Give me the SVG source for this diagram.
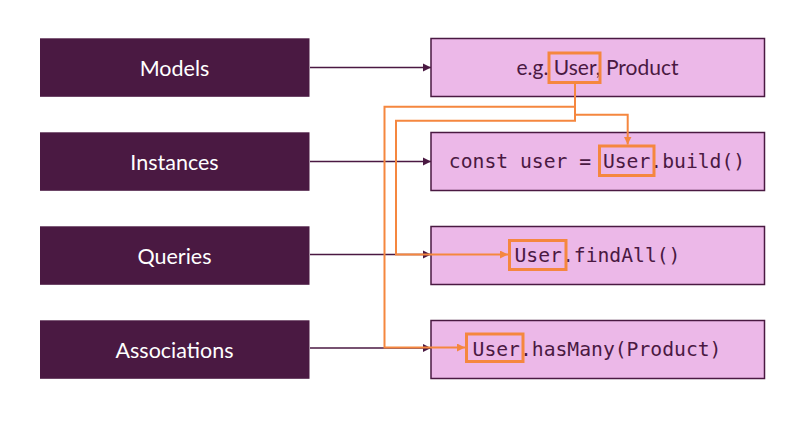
<svg xmlns="http://www.w3.org/2000/svg" width="808" height="421" viewBox="0 0 808 421">
<style>
.lbox{fill:#4a1942;}
.rbox{fill:#ecb8e8;stroke:#4a1942;stroke-width:1.5;}
.ltxt{font-family:Lato,"Open Sans",sans-serif;font-size:21.5px;fill:#ffffff;text-anchor:middle;}
.stxt{font-family:Lato,"Open Sans",sans-serif;font-size:21px;fill:#4a1942;text-anchor:middle;}
.mono{font-family:"DejaVu Sans Mono","Liberation Mono",monospace;font-size:19.7px;fill:#4a1942;text-anchor:middle;}
.hl{fill:none;stroke:#f5873f;stroke-width:3;}
.dark{fill:none;stroke:#4a1942;stroke-width:1.5;marker-end:url(#ad);}
.ora{fill:none;stroke:#f5873f;stroke-width:2;marker-end:url(#ao);}
</style>
<defs>
<marker id="ad" viewBox="0 0 8 8" refX="8" refY="4" markerWidth="5.5" markerHeight="5.5" markerUnits="strokeWidth" orient="auto"><path d="M0,0 L8,4 L0,8 z" fill="#4a1942"/></marker>
<marker id="ao" viewBox="0 0 8 8" refX="8" refY="4" markerWidth="4" markerHeight="4" markerUnits="strokeWidth" orient="auto"><path d="M0,0 L8,4 L0,8 z" fill="#f5873f"/></marker>
</defs>
<rect width="808" height="421" fill="#ffffff"/>
<g id="models"><rect class="lbox" x="40" y="38.3" width="269.5" height="58.5"/><text class="ltxt" x="174.5" y="75.5">Models</text></g>
<g id="instances"><rect class="lbox" x="40" y="132.3" width="269.5" height="58.5"/><text class="ltxt" x="174.5" y="169.5">Instances</text></g>
<g id="queries"><rect class="lbox" x="40" y="226.3" width="269.5" height="58.5"/><text class="ltxt" x="174.5" y="263.5">Queries</text></g>
<g id="associations"><rect class="lbox" x="40" y="320.3" width="269.5" height="58.5"/><text class="ltxt" x="174.5" y="357.5">Associations</text></g>
<g id="models-ex"><rect class="rbox" x="431" y="38.5" width="333.5" height="58"/><text class="stxt" x="597.5" y="75">e.g. User, Product</text><rect class="hl" x="549" y="53" width="51" height="29.5"/></g>
<g id="instances-ex"><rect class="rbox" x="431" y="132.5" width="333.5" height="58"/><text class="mono" x="597" y="168">const user = User.build()</text><rect class="hl" x="599.5" y="146" width="54.5" height="29.5"/></g>
<g id="queries-ex"><rect class="rbox" x="431" y="226.5" width="333.5" height="58"/><text class="mono" x="597.5" y="262">User.findAll()</text><rect class="hl" x="509.5" y="240.5" width="56.5" height="29"/></g>
<g id="associations-ex"><rect class="rbox" x="431" y="320.5" width="333.5" height="58"/><text class="mono" x="597" y="356">User.hasMany(Product)</text><rect class="hl" x="466.5" y="334" width="56.5" height="27.5"/></g>
<g id="connectors">
<path class="dark" d="M310,67.5 H431"/>
<path class="dark" d="M310,161.5 H431"/>
<path class="dark" d="M310,254.5 H431"/>
<path class="dark" d="M310,348 H431"/>
<path class="ora" d="M575,82.5 V120.7 H396 V254.5 H508"/>
<path class="ora" d="M575,106.7 H384.5 V347.5 H465"/>
<path class="ora" d="M575,114.7 H627.7 V144.5"/>
</g>
</svg>
